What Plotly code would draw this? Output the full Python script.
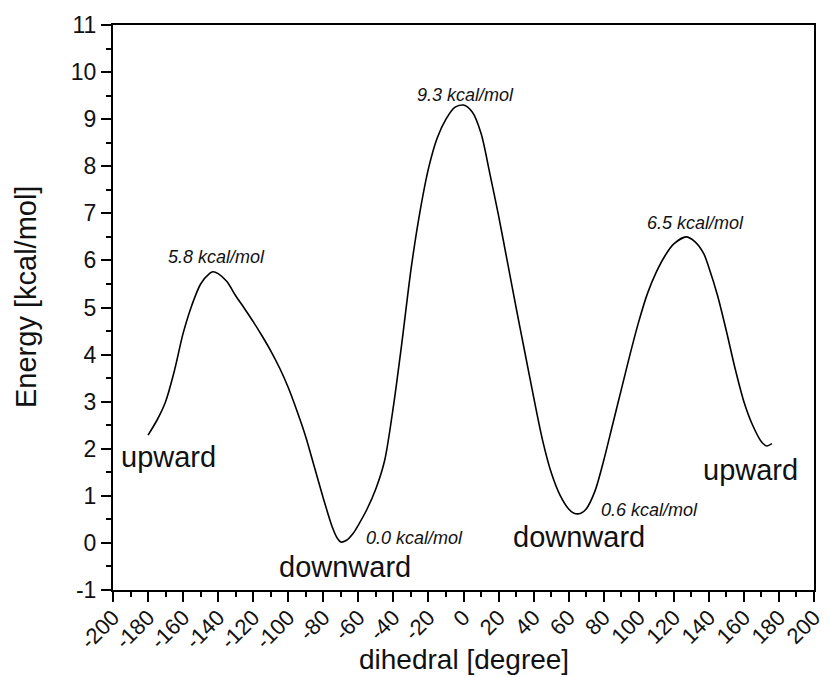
import plotly.graph_objects as go

dihedral = [-180, -175, -170, -165, -160, -155, -150, -145, -143, -140, -135, -130, -125, -120,
            -115, -110, -105, -100, -95, -90, -85, -80, -75, -72, -70, -67, -63, -60, -55, -50,
            -45, -40, -35, -30, -25, -20, -15, -10, -5, 0, 5, 10, 15, 20, 25, 30, 35, 40, 45,
            50, 55, 60, 63, 67, 70, 75, 80, 85, 90, 95, 100, 105, 110, 115, 120, 127, 132, 137,
            140, 145, 150, 155, 160, 165, 170, 173, 176]
energy = [2.29, 2.6, 3.0, 3.65, 4.45, 5.05, 5.5, 5.72, 5.76, 5.72, 5.55, 5.25, 4.98, 4.7,
          4.4, 4.08, 3.72, 3.3, 2.8, 2.25, 1.6, 0.95, 0.35, 0.1, 0.02, 0.05, 0.2, 0.38, 0.72, 1.15,
          1.75, 2.9, 4.3, 5.8, 7.0, 7.95, 8.6, 9.0, 9.25, 9.3, 9.15, 8.7, 7.85, 6.95, 5.98, 5.0, 4.05, 3.1, 2.2,
          1.5, 1.02, 0.72, 0.63, 0.63, 0.72, 1.1, 1.75, 2.5, 3.25, 4.0, 4.7, 5.3, 5.75, 6.1, 6.35, 6.5, 6.4, 6.15,
          5.85, 5.25, 4.5, 3.7, 3.0, 2.5, 2.15, 2.06, 2.11]

# energy labels (italic)
label_text = ["5.8 kcal/mol", "9.3 kcal/mol", "6.5 kcal/mol", "0.0 kcal/mol", "0.6 kcal/mol"]
label_x = [-141, 1.2, 132.1, -27.7, 106.4]
label_y = [6.08, 9.51, 6.79, 0.10, 0.70]

# orientation labels
orient_text = ["upward", "downward", "downward", "upward"]
orient_x = [-168.2, -67.6, 65.9, 163.5]
orient_y = [1.83, -0.51, 0.13, 1.55]

# tick labels (hyphen-minus as in the original)
x_ticks = list(range(-200, 201, 20))
x_ticklabels = [str(v) for v in x_ticks]
y_ticks = list(range(-1, 12))
y_ticklabels = [str(v) for v in y_ticks]

x_title = "dihedral [degree]"
y_title = "Energy [kcal/mol]"

FONT = "Liberation Sans, Arial, sans-serif"

fig = go.Figure()
fig.add_trace(go.Scatter(x=dihedral, y=energy, mode="lines",
                         line=dict(color="black", width=1.6, shape="spline", smoothing=0.8),
                         showlegend=False, hoverinfo="skip"))

annotations = []
for t, x, y in zip(label_text, label_x, label_y):
    annotations.append(dict(x=x, y=y, xref="x", yref="y", text="<i>" + t + "</i>",
                            showarrow=False, font=dict(family=FONT, size=18, color="#111"),
                            xanchor="center", yanchor="middle"))
for t, x, y in zip(orient_text, orient_x, orient_y):
    annotations.append(dict(x=x, y=y, xref="x", yref="y", text=t,
                            showarrow=False, font=dict(family=FONT, size=29, color="#111"),
                            xanchor="center", yanchor="middle"))
# axis titles
annotations.append(dict(x=0.5, y=-0.152, xref="paper", yref="paper", text=x_title,
                        showarrow=False, font=dict(family=FONT, size=28, color="#111"),
                        xanchor="center", yanchor="bottom", borderpad=0))
annotations.append(dict(x=-0.1241, y=0.5186, xref="paper", yref="paper", text=y_title,
                        textangle=-90, showarrow=False,
                        font=dict(family=FONT, size=29, color="#111"),
                        xanchor="center", yanchor="middle"))

fig.update_layout(
    width=830, height=677,
    margin=dict(l=113, r=16, t=25, b=87),
    paper_bgcolor="white", plot_bgcolor="white",
    font=dict(family=FONT, color="#111"),
    annotations=annotations,
    xaxis=dict(range=[-200, 200], tickmode="array", tickvals=x_ticks, ticktext=x_ticklabels,
               tickangle=-45, automargin=False, ticklabelstandoff=-6,
               ticks="outside", ticklen=10, tickwidth=2, tickcolor="black",
               minor=dict(dtick=10, tick0=-200, ticks="outside", ticklen=5, tickwidth=2, tickcolor="black"),
               showline=True, linewidth=2, linecolor="black", mirror=True,
               showgrid=False, zeroline=False,
               tickfont=dict(family=FONT, size=22, color="#111")),
    yaxis=dict(range=[-1, 11], tickmode="array", tickvals=y_ticks, ticktext=y_ticklabels,
               automargin=False,
               ticks="outside", ticklen=10, tickwidth=2, tickcolor="black",
               minor=dict(dtick=0.5, tick0=-1, ticks="outside", ticklen=5, tickwidth=2, tickcolor="black"),
               showline=True, linewidth=2, linecolor="black", mirror=True,
               showgrid=False, zeroline=False,
               tickfont=dict(family=FONT, size=23, color="#111")),
)

fig.write_html("out.html")
